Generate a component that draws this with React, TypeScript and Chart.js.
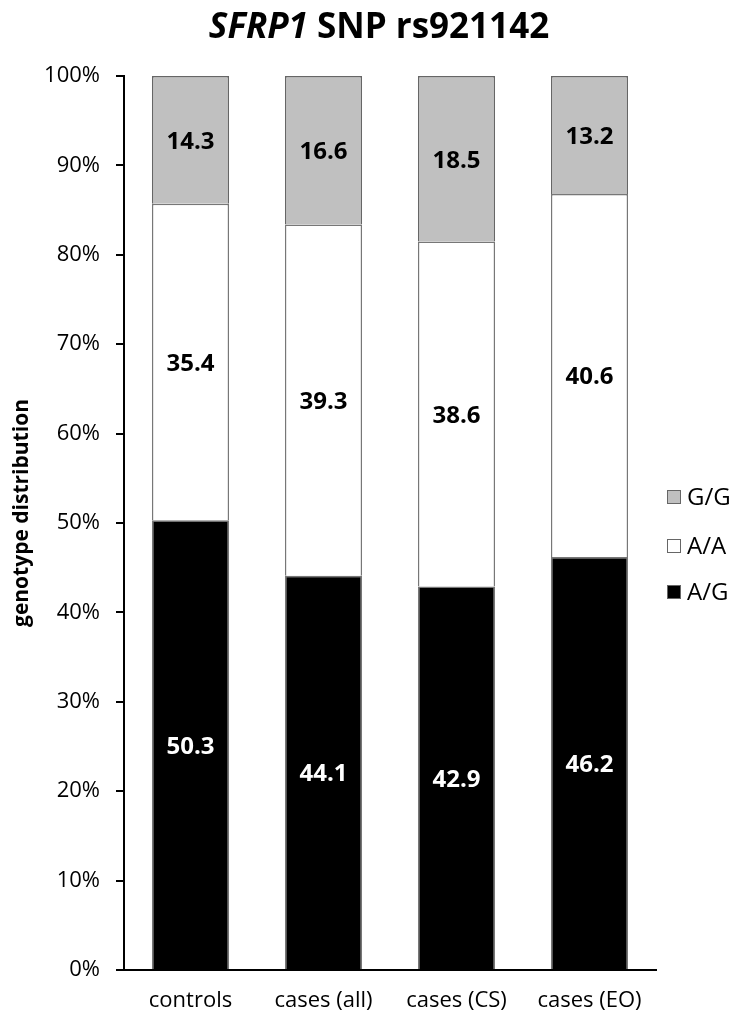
import React, { useEffect, useRef } from "react";
import { Chart, registerables } from "chart.js";

Chart.register(...registerables);

const categories = ["controls", "cases (all)", "cases (CS)", "cases (EO)"];
const agValues = [50.3, 44.1, 42.9, 46.2];
const aaValues = [35.4, 39.3, 38.6, 40.6];
const ggValues = [14.3, 16.6, 18.5, 13.2];
const seriesNames = ["A/G", "A/A", "G/G"];
const seriesColors = ["#000000", "#ffffff", "#c0c0c0"];
const labelColors = ["#ffffff", "#000000", "#000000"];
const titleItalic = "SFRP1";
const titleRest = " SNP rs921142";
const yAxisTitle = "genotype distribution";

const FONT = "'Open Sans', 'DejaVu Sans', sans-serif";

const decorPlugin = {
  id: "decor",
  afterDatasetsDraw(chart: any) {
    const ctx = chart.ctx;
    const area = chart.chartArea;
    ctx.save();
    // bar value labels
    ctx.font = `bold 24px ${FONT}`;
    ctx.textAlign = "center";
    ctx.textBaseline = "middle";
    chart.data.datasets.forEach((ds: any, di: number) => {
      const meta = chart.getDatasetMeta(di);
      meta.data.forEach((bar: any, i: number) => {
        const v = ds.data[i];
        const cy = (bar.y + bar.base) / 2 + 2;
        ctx.fillStyle = labelColors[di];
        ctx.fillText(v.toFixed(1), bar.x, cy);
      });
    });
    // title
    ctx.textBaseline = "middle";
    ctx.fillStyle = "#000";
    ctx.font = `italic bold 35px ${FONT}`;
    const w1 = ctx.measureText(titleItalic).width;
    ctx.font = `bold 35px ${FONT}`;
    const w2 = ctx.measureText(titleRest).width;
    const cx = 379;
    const startX = cx - (w1 + w2) / 2;
    ctx.textAlign = "left";
    ctx.font = `italic bold 35px ${FONT}`;
    ctx.fillText(titleItalic, startX, 28);
    ctx.font = `bold 35px ${FONT}`;
    ctx.fillText(titleRest, startX + w1, 28);
    // y-axis title
    ctx.save();
    ctx.translate(22, (area.top + area.bottom) / 2 - 10);
    ctx.rotate(-Math.PI / 2);
    ctx.textAlign = "center";
    ctx.font = `bold 21px ${FONT}`;
    ctx.fillText(yAxisTitle, 0, 0);
    ctx.restore();
    // legend (reverse order)
    const legendY = [497, 546, 592];
    const order = [2, 1, 0];
    ctx.font = `24px ${FONT}`;
    ctx.textAlign = "left";
    ctx.textBaseline = "middle";
    order.forEach((di, k) => {
      const y = legendY[k];
      ctx.fillStyle = seriesColors[di];
      ctx.fillRect(667, y - 7, 14, 14);
      ctx.strokeStyle = "#666";
      ctx.lineWidth = 1;
      ctx.strokeRect(667.5, y - 6.5, 13, 13);
      ctx.fillStyle = "#000";
      ctx.fillText(seriesNames[di], 687, y + 1);
    });
    ctx.restore();
  },
};

export default function App() {
  const ref = useRef<HTMLCanvasElement | null>(null);
  useEffect(() => {
    document.body.style.margin = "0";
    const canvas = ref.current!;
    const chart = new Chart(canvas, {
      type: "bar",
      data: {
        labels: categories,
        datasets: [
          { label: seriesNames[0], data: agValues, backgroundColor: seriesColors[0], borderColor: "#777", borderWidth: 1.5 },
          { label: seriesNames[1], data: aaValues, backgroundColor: seriesColors[1], borderColor: "#777", borderWidth: 1.5 },
          { label: seriesNames[2], data: ggValues, backgroundColor: seriesColors[2], borderColor: "#666", borderWidth: 1.5 },
        ],
      },
      options: {
        responsive: false,
        animation: false,
        devicePixelRatio: 1,
        datasets: { bar: { barPercentage: 0.58, categoryPercentage: 1 } },
        layout: { padding: { top: 76, right: 82, left: 0, bottom: 0 } },
        plugins: { legend: { display: false }, tooltip: { enabled: false }, title: { display: false } },
        scales: {
          x: {
            stacked: true,
            grid: { display: false, drawTicks: false },
            border: { display: true, color: "#000", width: 2 },
            ticks: { color: "#000", font: { family: FONT, size: 22 }, padding: 18, maxRotation: 0 },
            afterFit: (s: any) => { s.height = 55; },
          },
          y: {
            stacked: true,
            min: 0,
            max: 100,
            grid: { drawOnChartArea: false, drawTicks: true, tickLength: 8, color: "#000", lineWidth: 2 },
            border: { display: true, color: "#000", width: 2 },
            ticks: {
              stepSize: 10,
              color: "#000",
              padding: 16,
              font: { family: FONT, size: 22 },
              callback: (v: any) => `${v}%`,
            },
            afterFit: (s: any) => { s.width = 124; },
          },
        },
      },
      plugins: [decorPlugin],
    });
    return () => chart.destroy();
  }, []);
  return (
    <div style={{ position: "fixed", left: 0, top: 0, width: 738, height: 1025, background: "#fff" }}>
      <canvas ref={ref} width={738} height={1025} style={{ width: 738, height: 1025, display: "block" }} />
    </div>
  );
}
